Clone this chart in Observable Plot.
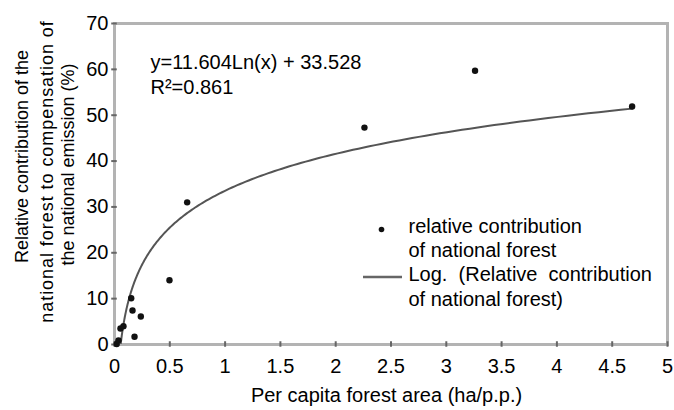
<!DOCTYPE html>
<html><head><meta charset="utf-8">
<script src="https://cdn.jsdelivr.net/npm/d3@7"></script>
<script src="https://cdn.jsdelivr.net/npm/@observablehq/plot@0.6"></script>
<style>body{margin:0;background:#fff}</style>
</head><body><div id="chart"></div>
<script>
// Data
const forestArea   = [0.02, 0.036, 0.054, 0.081, 0.151, 0.163, 0.181, 0.238, 0.497, 0.657, 2.26, 3.26, 4.68];
const contribution = [0.1,  0.9,   3.5,   4.0,   10.1,  7.4,   1.7,   6.1,   14.0,  31.0,  47.3, 59.7, 51.9];
const xTicks = [0, 0.5, 1, 1.5, 2, 2.5, 3, 3.5, 4, 4.5, 5];
const yTicks = [0, 10, 20, 30, 40, 50, 60, 70];
// Logarithmic trendline stated on the chart
const fitSlope = 11.604, fitIntercept = 33.528, fitR2 = "0.861";
const fitStart = 0.056, fitEnd = 4.68;

const points = forestArea.map((x, i) => ({x, y: contribution[i]}));
const fitXs = d3.range(0, 201).map(i => fitStart * Math.pow(fitEnd / fitStart, i / 200));
const fit = fitXs.map(x => ({x, y: fitSlope * Math.log(x) + fitIntercept}));

const eqText = `y=${fitSlope}Ln(x) + ${fitIntercept}\nR\u00b2=${fitR2}`;
const legendPts = "relative contribution\nof national forest";
const legendFit = "Log.\u00a0 (Relative\u00a0 contribution\nof national forest)";
const yTitle = ["Relative contribution of the", "national forest to compensation of", "the national emission (%)"];
const xTitle = "Per capita forest area (ha/p.p.)";

const legendLine = (index, scales, values, dims) => {
  const g = d3.create("svg:g");
  g.append("line")
    .attr("x1", dims.marginLeft + 249).attr("x2", dims.marginLeft + 288)
    .attr("y1", dims.marginTop + 254).attr("y2", dims.marginTop + 254)
    .attr("stroke", "#666").attr("stroke-width", 2.5);
  return g.node();
};

const plot = Plot.plot({
  width: 674, height: 410,
  marginLeft: 114, marginRight: 7, marginTop: 23, marginBottom: 66,
  style: {fontFamily: "'Liberation Sans', Arial, sans-serif", background: "#fff", color: "#000"},
  x: {domain: [0, 5], label: null},
  y: {domain: [0, 70], label: null},
  marks: [
    Plot.frame({stroke: "#b3b3b3", strokeWidth: 3}),
    Plot.ruleX(xTicks, {x: d => d, y1: -0.6, y2: 0.6, stroke: "#666", strokeWidth: 2}),
    Plot.ruleY(yTicks, {y: d => d, x1: -0.025, x2: 0.025, stroke: "#666", strokeWidth: 2}),
    Plot.axisX(xTicks, {tickSize: 0, tickPadding: 14, fontSize: 20, tickFormat: d => String(d), label: null}),
    Plot.axisY(yTicks, {tickSize: 0, tickPadding: 6, fontSize: 20, tickFormat: d => String(d), label: null}),
    Plot.line(fit, {x: "x", y: "y", stroke: "#555", strokeWidth: 2, clip: true}),
    Plot.dot(points, {x: "x", y: "y", r: 3.2, fill: "#111"}),
    Plot.text([eqText], {frameAnchor: "top-left", dx: 36, dy: 49.5, textAnchor: "start", lineAnchor: "middle", fontSize: 20, lineHeight: 1.25}),
    Plot.dot([0], {frameAnchor: "top-left", dx: 267, dy: 206, r: 2.8, fill: "#111"}),
    Plot.text([legendPts], {frameAnchor: "top-left", dx: 294, dy: 214, textAnchor: "start", lineAnchor: "middle", fontSize: 20, lineHeight: 1.2}),
    legendLine,
    Plot.text([legendFit], {frameAnchor: "top-left", dx: 294, dy: 261.5, textAnchor: "start", lineAnchor: "middle", fontSize: 20, lineHeight: 1.25}),
    Plot.text([yTitle[0]], {frameAnchor: "left", dx: -92, dy: -27.5, rotate: -90, textAnchor: "middle", lineAnchor: "middle", fontSize: 18}),
    Plot.text([yTitle[1]], {frameAnchor: "left", dx: -67, dy: -12.5, rotate: -90, textAnchor: "middle", lineAnchor: "middle", fontSize: 18}),
    Plot.text([yTitle[2]], {frameAnchor: "left", dx: -46, dy: -19.5, rotate: -90, textAnchor: "middle", lineAnchor: "middle", fontSize: 18}),
    Plot.text([xTitle], {frameAnchor: "bottom", dx: -4.5, dy: 51, lineAnchor: "middle", fontSize: 20})
  ]
});
d3.select(plot).selectAll("text")
  .filter(function() { return this.textContent === yTitle[1]; })
  .attr("letter-spacing", "0.95px");
document.getElementById("chart").append(plot);
</script>
</body></html>
